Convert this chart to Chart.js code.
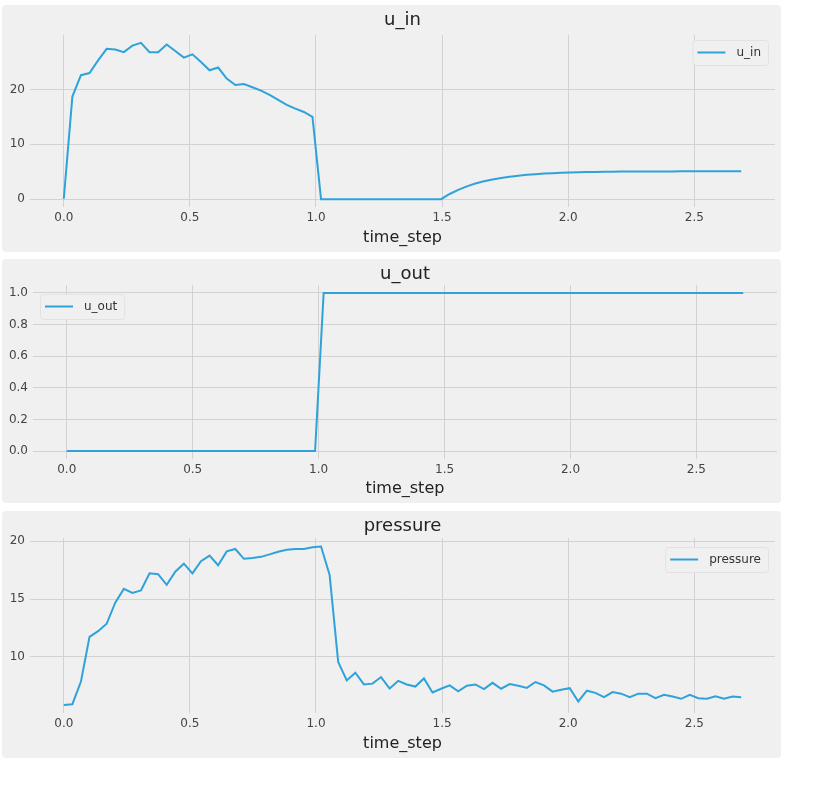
<!DOCTYPE html>
<html>
<head>
<meta charset="utf-8">
<title>u_in / u_out / pressure</title>
<script src="https://cdn.jsdelivr.net/npm/chart.js@4.4.1/dist/chart.umd.min.js"></script>
<style>
  body { margin: 0; background: #ffffff; }
  .panel { position: absolute; left: 2px; width: 779px; background: #f0f0f0; border-radius: 4px; }
  .panel canvas { display: block; }
</style>
</head>
<body>
<div class="panel" style="top:5px;height:247px"><canvas id="uInChart"></canvas></div>
<div class="panel" style="top:259px;height:244px"><canvas id="uOutChart"></canvas></div>
<div class="panel" style="top:511px;height:247px"><canvas id="pressureChart"></canvas></div>
<script>
// time_step values (x axis), one breath of 80 samples
const timeStep = [
  0.000, 0.034, 0.068, 0.102, 0.136, 0.170, 0.204, 0.238, 0.272, 0.306,
  0.340, 0.374, 0.408, 0.442, 0.476, 0.510, 0.544, 0.578, 0.612, 0.646,
  0.680, 0.714, 0.748, 0.782, 0.816, 0.850, 0.884, 0.918, 0.952, 0.986,
  1.020, 1.054, 1.088, 1.122, 1.156, 1.190, 1.224, 1.258, 1.292, 1.326,
  1.360, 1.394, 1.428, 1.462, 1.496, 1.530, 1.564, 1.598, 1.632, 1.666,
  1.700, 1.734, 1.768, 1.802, 1.836, 1.870, 1.904, 1.938, 1.972, 2.006,
  2.040, 2.074, 2.108, 2.142, 2.176, 2.210, 2.244, 2.278, 2.312, 2.346,
  2.380, 2.414, 2.448, 2.482, 2.516, 2.550, 2.584, 2.618, 2.652, 2.686
];

const uIn = [
  0.08, 18.7, 22.6, 23.0, 25.3, 27.4, 27.3, 26.8, 28.0, 28.5,
  26.8, 26.8, 28.2, 27.0, 25.8, 26.4, 25.0, 23.5, 24.0, 22.0,
  20.8, 21.0, 20.4, 19.8, 19.0, 18.1, 17.2, 16.5, 15.9, 15.0,
  0, 0, 0, 0, 0, 0, 0, 0, 0, 0,
  0, 0, 0, 0, 0, 0.94, 1.70, 2.33, 2.84, 3.26,
  3.60, 3.87, 4.10, 4.28, 4.44, 4.56, 4.66, 4.74, 4.80, 4.86,
  4.91, 4.94, 4.97, 4.99, 5.01, 5.02, 5.03, 5.04, 5.05, 5.05,
  5.06, 5.06, 5.07, 5.07, 5.08, 5.08, 5.08, 5.09, 5.09, 5.09
];

const uOut = [
  0, 0, 0, 0, 0, 0, 0, 0, 0, 0,
  0, 0, 0, 0, 0, 0, 0, 0, 0, 0,
  0, 0, 0, 0, 0, 0, 0, 0, 0, 0,
  1, 1, 1, 1, 1, 1, 1, 1, 1, 1,
  1, 1, 1, 1, 1, 1, 1, 1, 1, 1,
  1, 1, 1, 1, 1, 1, 1, 1, 1, 1,
  1, 1, 1, 1, 1, 1, 1, 1, 1, 1,
  1, 1, 1, 1, 1, 1, 1, 1, 1, 1
];

const pressure = [
  5.84, 5.91, 7.87, 11.74, 12.23, 12.87, 14.70, 15.89, 15.54, 15.75,
  17.23, 17.16, 16.24, 17.37, 18.07, 17.23, 18.28, 18.77, 17.93, 19.13,
  19.34, 18.49, 18.56, 18.66, 18.87, 19.10, 19.27, 19.34, 19.34, 19.48,
  19.55, 17.09, 9.57, 7.97, 8.63, 7.62, 7.69, 8.26, 7.27, 7.93,
  7.62, 7.44, 8.14, 6.93, 7.25, 7.54, 7.02, 7.51, 7.62, 7.22,
  7.76, 7.25, 7.65, 7.51, 7.32, 7.83, 7.54, 7.00, 7.17, 7.30,
  6.15, 7.08, 6.89, 6.52, 6.96, 6.82, 6.52, 6.82, 6.82, 6.43,
  6.73, 6.58, 6.38, 6.73, 6.43, 6.38, 6.60, 6.38, 6.58, 6.52
];

const xTicks = [0, 0.5, 1.0, 1.5, 2.0, 2.5];
const uInTicks = [0, 10, 20];
const uOutTicks = [0, 0.2, 0.4, 0.6, 0.8, 1.0];
const pressureTicks = [10, 15, 20];

const LINE_COLOR = '#30a2da';
const GRID_COLOR = '#d2d2d2';
const FONT = '"DejaVu Sans", sans-serif';

Chart.defaults.font.family = FONT;
Chart.defaults.color = '#444';

// draws the subplot title and a matplotlib-like legend inside the plot area
const panelDecor = {
  id: 'panelDecor',
  afterDraw(chart, args, opts) {
    const { ctx, chartArea } = chart;
    ctx.save();

    // title
    ctx.font = '18px ' + FONT;
    ctx.fillStyle = '#222';
    ctx.textAlign = 'center';
    ctx.textBaseline = 'alphabetic';
    ctx.fillText(opts.title, (chartArea.left + chartArea.right) / 2, chartArea.top - opts.titleGap);

    // legend
    const label = chart.data.datasets[0].label;
    ctx.font = '12px ' + FONT;
    const textW = ctx.measureText(label).width;
    const boxW = 5 + 28 + 11 + textW + 7;
    const boxH = 25;
    const boxX = opts.legendSide === 'left' ? chartArea.left + 7 : chartArea.right - 7 - boxW;
    const boxY = chartArea.top + opts.legendTop;

    ctx.fillStyle = '#f0f0f0';
    ctx.strokeStyle = '#e2e2e2';
    ctx.lineWidth = 1;
    ctx.beginPath();
    ctx.roundRect(boxX + 0.5, boxY + 0.5, boxW, boxH, 3);
    ctx.fill();
    ctx.stroke();

    ctx.strokeStyle = LINE_COLOR;
    ctx.lineWidth = 2;
    ctx.beginPath();
    ctx.moveTo(boxX + 5, boxY + boxH / 2);
    ctx.lineTo(boxX + 33, boxY + boxH / 2);
    ctx.stroke();

    ctx.fillStyle = '#333';
    ctx.textAlign = 'left';
    ctx.textBaseline = 'middle';
    ctx.fillText(label, boxX + 44, boxY + boxH / 2);

    ctx.restore();
  }
};

function makeChart(canvasId, label, values, cfg) {
  const ctx = document.getElementById(canvasId).getContext('2d');
  return new Chart(ctx, {
    type: 'line',
    data: {
      datasets: [{
        label: label,
        data: timeStep.map((t, i) => ({ x: t, y: values[i] })),
        borderColor: LINE_COLOR,
        borderWidth: 2,
        pointRadius: 0,
        tension: 0,
        fill: false
      }]
    },
    options: {
      responsive: true,
      maintainAspectRatio: false,
      animation: false,
      layout: { padding: { top: cfg.top, right: cfg.right, left: 0, bottom: 0 } },
      plugins: {
        legend: { display: false },
        tooltip: { enabled: false },
        panelDecor: { title: label, titleGap: cfg.titleGap, legendSide: cfg.legendSide, legendTop: cfg.legendTop }
      },
      scales: {
        x: {
          type: 'linear',
          min: -0.134,
          max: 2.82,
          afterBuildTicks: (axis) => { axis.ticks = xTicks.map(v => ({ value: v })); },
          afterFit: (scale) => { scale.height = cfg.xHeight; },
          ticks: { font: { size: 12 }, padding: 4, color: '#444', callback: (v) => Number(v).toFixed(1) },
          grid: { color: GRID_COLOR, lineWidth: 1, drawTicks: false },
          border: { display: false },
          title: { display: true, text: 'time_step', color: '#222', font: { size: 16 }, padding: { top: 0, bottom: 5 } }
        },
        y: {
          min: cfg.yMin,
          max: cfg.yMax,
          afterBuildTicks: (axis) => { axis.ticks = cfg.yTicks.map(v => ({ value: v })); },
          afterFit: (scale) => { scale.width = cfg.left; },
          ticks: { font: { size: 12 }, padding: 5, color: '#444', callback: cfg.yFormat },
          grid: { color: GRID_COLOR, lineWidth: 1, drawTicks: false },
          border: { display: false }
        }
      }
    },
    plugins: [panelDecor]
  });
}

makeChart('uInChart', 'u_in', uIn, {
  top: 30, right: 6, left: 28, xHeight: 45,
  yMin: -1.43, yMax: 29.93, yTicks: uInTicks, yFormat: (v) => String(v),
  titleGap: 10, legendSide: 'right', legendTop: 5
});

makeChart('uOutChart', 'u_out', uOut, {
  top: 26, right: 4, left: 31, xHeight: 44,
  yMin: -0.05, yMax: 1.05, yTicks: uOutTicks, yFormat: (v) => Number(v).toFixed(1),
  titleGap: 6, legendSide: 'left', legendTop: 9
});

makeChart('pressureChart', 'pressure', pressure, {
  top: 27, right: 6, left: 28, xHeight: 45,
  yMin: 5.15, yMax: 20.29, yTicks: pressureTicks, yFormat: (v) => String(v),
  titleGap: 7, legendSide: 'right', legendTop: 9
});
</script>
</body>
</html>
